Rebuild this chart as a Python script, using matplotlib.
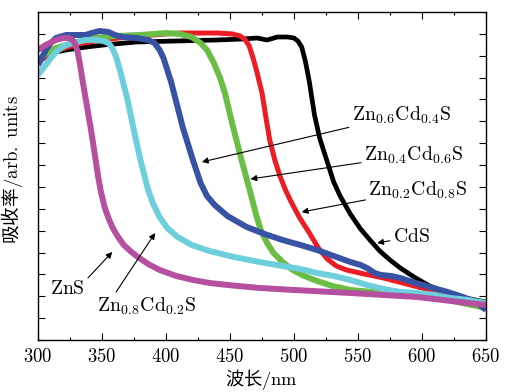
import matplotlib
matplotlib.use("Agg")
import matplotlib.pyplot as plt
from matplotlib.ticker import MultipleLocator, FuncFormatter

plt.rcParams['mathtext.fontset'] = 'cm'
plt.rcParams['font.family'] = ['DejaVu Serif', 'Noto Sans CJK SC']

# ---- data: wavelength (nm) and absorbance (arb. units) ----
wl_cds = [300, 306, 314, 322, 338, 351, 377, 408, 440, 460, 471, 479, 487, 495, 500, 503, 506, 509, 512, 516, 520, 526, 531, 536, 544, 552, 560, 567, 575, 583, 595, 606, 618, 630, 650]
ab_cds = [280, 285, 288, 290, 293, 295, 298, 299, 300, 301, 302, 300, 303, 303, 302, 299, 293, 278, 258, 225, 202, 178, 158, 144, 126, 111, 99, 89, 80, 72, 62, 54, 48, 43, 38]

wl_z02 = [300, 306, 314, 331, 350, 370, 390, 410, 440, 452, 458, 462, 465, 468, 471, 475, 478, 481, 485, 489, 493, 497, 504, 512, 519, 526, 533, 541, 555, 570, 588, 606, 628, 650]
ab_z02 = [278, 283, 289, 296, 300, 303, 305, 307, 307, 306, 304, 300, 294, 282, 268, 247, 223, 200, 180, 164, 151, 140, 123, 107, 92, 81, 74, 70, 66, 62, 56, 50, 42, 33]

wl_z04 = [300, 306, 314, 330, 345, 360, 380, 400, 411, 420, 427, 432, 437, 442, 446, 452, 459, 466, 470, 474, 479, 484, 491, 499, 508, 518, 530, 544, 570, 596, 620, 635, 650]
ab_z04 = [280, 286, 292, 298, 302, 304, 305, 307, 306, 303, 297, 290, 278, 263, 247, 215, 180, 147, 127, 110, 97, 87, 78, 70, 64, 59, 54, 50, 47, 44, 40, 36, 32]

wl_z06 = [300, 303, 306, 310, 314, 322, 330, 337, 342, 348, 355, 360, 366, 377, 386, 391, 395, 398, 401, 404, 407, 413, 421, 427, 432, 438, 448, 463, 477, 491, 505, 518, 531, 544, 552, 557, 563, 568, 576, 583, 595, 606, 620, 632, 642, 650]
ab_z06 = [275, 282, 290, 297, 302, 305, 305, 305, 307, 309, 308, 305, 303, 302, 300, 297, 290, 282, 270, 258, 243, 213, 180, 157, 144, 135, 124, 113, 106, 100, 95, 90, 84, 78, 75, 72, 67, 65, 64, 62, 57, 53, 48, 43, 38, 30]

wl_z08 = [300, 303, 306, 310, 314, 318, 322, 330, 337, 345, 351, 355, 358, 361, 364, 367, 370, 374, 380, 386, 390, 395, 401, 409, 420, 434, 453, 473, 491, 505, 518, 531, 544, 557, 570, 583, 596, 610, 622, 636, 650]
ab_z08 = [265, 270, 275, 282, 288, 292, 295, 298, 300, 300, 299, 297, 292, 283, 270, 255, 240, 215, 180, 150, 136, 123, 112, 103, 95, 89, 83, 78, 74, 71, 67, 64, 60, 55, 51, 48, 47, 45, 42, 40, 37]

wl_zns = [300, 306, 314, 320, 324, 327, 329, 331, 333, 335, 337, 339, 341, 343, 345, 347, 349, 352, 355, 358, 362, 367, 373, 378, 386, 395, 408, 421, 434, 448, 473, 500, 544, 596, 650]
ab_zns = [290, 295, 300, 302, 302, 300, 296, 288, 274, 258, 243, 228, 213, 197, 180, 163, 149, 133, 122, 113, 104, 95, 88, 83, 76, 70, 64, 60, 57, 55, 52, 50, 47, 43, 35]

x_ticks = [300, 350, 400, 450, 500, 550, 600, 650]

fig = plt.figure(figsize=(5.07, 3.92), dpi=100)
ax = fig.add_axes([0.075, 0.1327, 0.8836, 0.8367])

kw = dict(solid_capstyle='butt', solid_joinstyle='round')
ax.plot(wl_cds, ab_cds, color='#000000', lw=3.4, **kw)
ax.plot(wl_z02, ab_z02, color='#ed1c24', lw=3.6, **kw)
ax.plot(wl_z04, ab_z04, color='#6abd45', lw=4.3, **kw)
ax.plot(wl_z06, ab_z06, color='#3953a4', lw=4.3, **kw)
ax.plot(wl_z08, ab_z08, color='#6dcfdc', lw=4.3, **kw)
ax.plot(wl_zns, ab_zns, color='#b54fa0', lw=4.3, **kw)

ax.set_xlim(300, 650)
ax.set_ylim(0, 328)
ax.set_xticks(x_ticks)
ax.xaxis.set_minor_locator(MultipleLocator(25))
ax.yaxis.set_major_locator(MultipleLocator(21.87))
ax.xaxis.set_major_formatter(FuncFormatter(lambda v, p: r'$%d$' % v))
ax.set_yticklabels([])
ax.tick_params(which='both', direction='in', top=True, right=True, labelsize=13.5, pad=6)
ax.tick_params(which='major', length=5, width=0.8)
ax.tick_params(which='minor', length=2.5, width=0.8)
for s in ax.spines.values():
    s.set_linewidth(1.0)

fig.text(261 / 507, 1 - 380 / 392, '波长$/\\mathrm{nm}$', fontsize=13.2,
         family=['Noto Sans CJK SC'], ha='center', va='center')
fig.text(12 / 507, 1 - 170 / 392, '吸收率$/\\mathrm{arb.\\ units}$', fontsize=13.5,
         family=['Noto Sans CJK SC'], ha='center', va='center', rotation=90)

ap = dict(arrowstyle='-|>', lw=0.8, color='black', mutation_scale=9, shrinkA=0, shrinkB=0)
fs = 14.2
ax.annotate(r'$\mathrm{Zn_{0.6}Cd_{0.4}S}$', xy=(428, 178), xytext=(545, 225),
            fontsize=fs, va='center', ha='left', arrowprops=ap)
ax.annotate(r'$\mathrm{Zn_{0.4}Cd_{0.6}S}$', xy=(466, 161), xytext=(554.5, 185),
            fontsize=fs, va='center', ha='left', arrowprops=ap)
ax.annotate(r'$\mathrm{Zn_{0.2}Cd_{0.8}S}$', xy=(506, 128), xytext=(558, 150),
            fontsize=fs, va='center', ha='left', arrowprops=ap)
ax.annotate(r'$\mathrm{CdS}$', xy=(565, 97), xytext=(577, 103),
            fontsize=fs, va='center', ha='left', arrowprops=ap)
ax.text(309.5, 51, r'$\mathrm{ZnS}$', fontsize=fs, va='center', ha='left')
ax.annotate('', xy=(358, 88), xytext=(339, 62), arrowprops=ap)
ax.text(346, 34, r'$\mathrm{Zn_{0.8}Cd_{0.2}S}$', fontsize=fs, va='center', ha='left')
ax.annotate('', xy=(391.5, 107), xytext=(361, 48), arrowprops=ap)

fig.savefig('out.png', dpi=100)
